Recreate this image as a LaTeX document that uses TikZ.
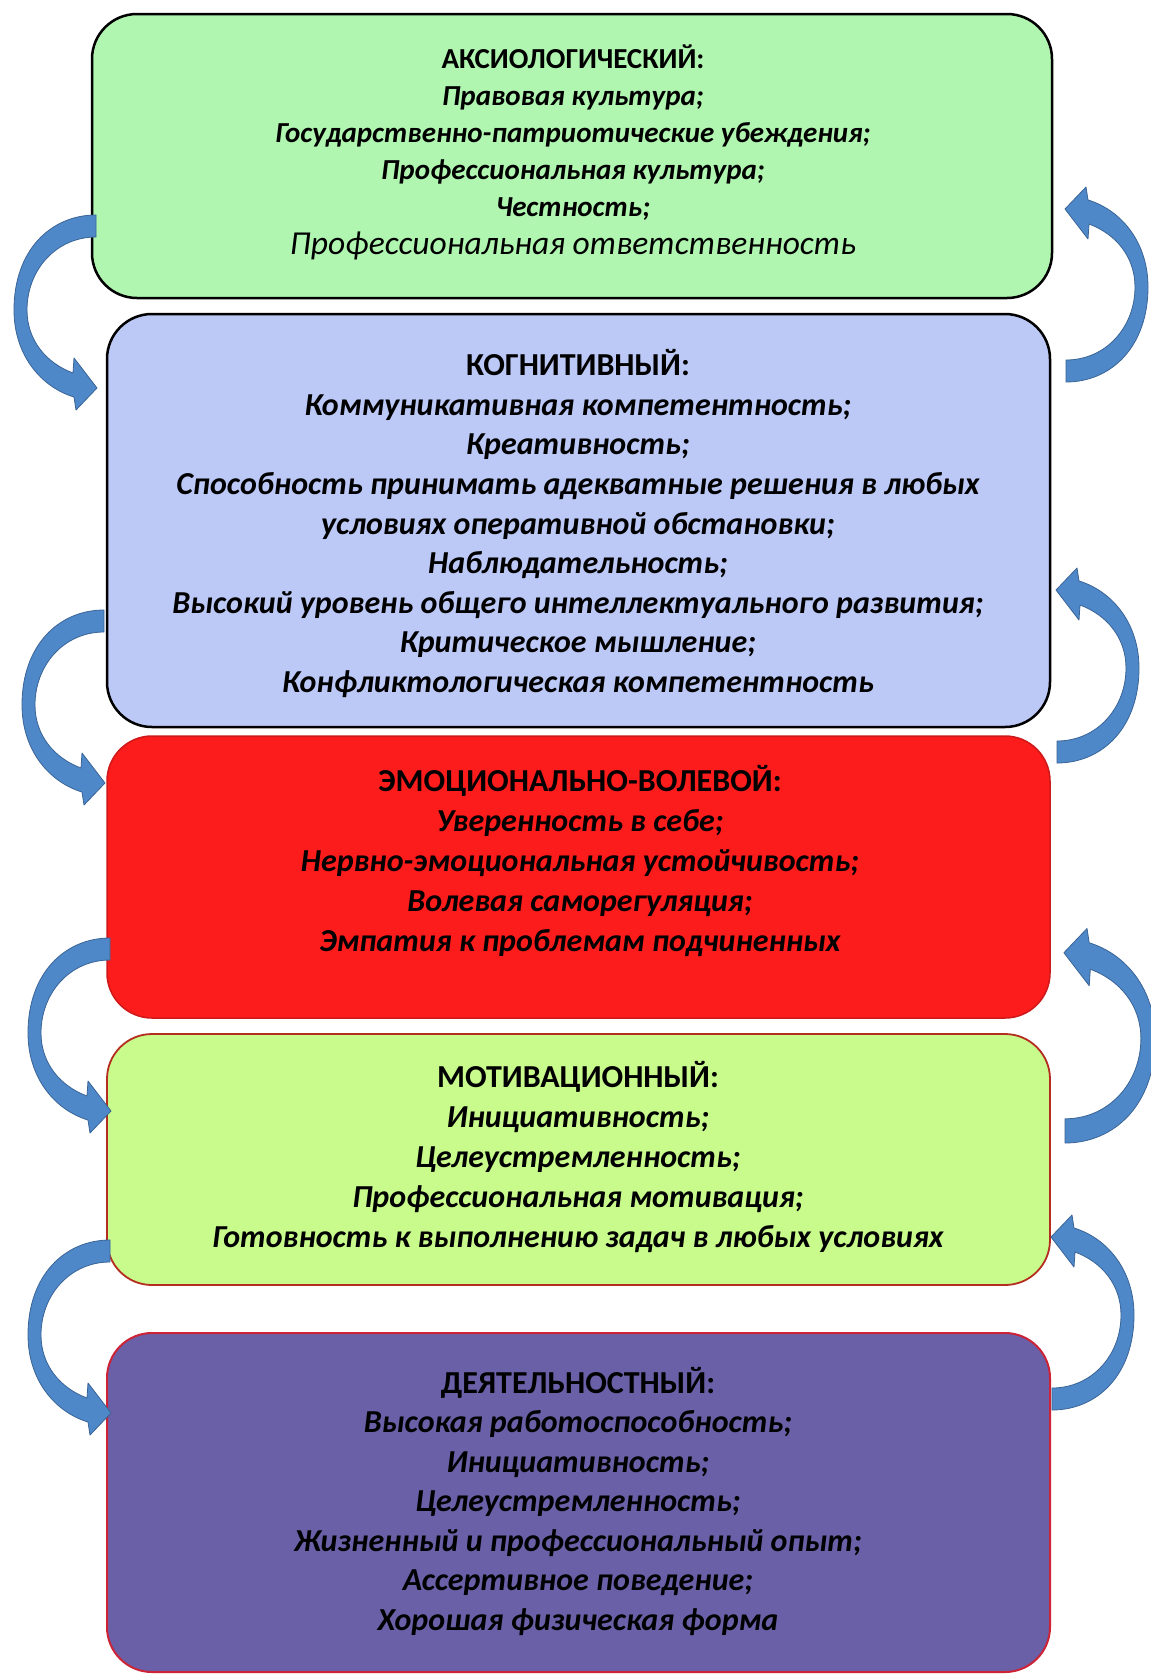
\documentclass[tikz,border=0pt]{standalone}
\usepackage{fontspec}
\setmainfont{Carlito}
\usepackage{graphicx}
\definecolor{cA}{RGB}{176,245,176}
\definecolor{cB}{RGB}{188,200,246}
\definecolor{cC}{RGB}{252,28,28}
\definecolor{cCb}{RGB}{205,25,25}
\definecolor{cD}{RGB}{200,250,140}
\definecolor{cDb}{RGB}{180,45,30}
\definecolor{cE}{RGB}{106,96,168}
\definecolor{cEb}{RGB}{205,35,55}
\definecolor{arrfill}{RGB}{78,136,200}
\definecolor{arrline}{RGB}{58,100,150}
\newcommand\hd[1]{{\bfseries #1}}
\newcommand\itm[1]{{\bfseries\itshape #1}}
\newcommand\itr[1]{{\fontsize{33.5}{37.2}\selectfont\itshape #1}}
\tikzset{
  box/.style={rectangle, rounded corners=45pt, inner sep=0pt, line width=2.5pt},
  txt/.style={align=center, inner sep=0pt, text=black},
  arrowstyle/.style={fill=arrfill, draw=arrline, line width=0.8pt, line join=round},
  curvarrow/.pic={
    \filldraw[arrowstyle] (0,0) .. controls (-45,0) and (-82,35) .. (-82,95)
      .. controls (-82,140) and (-55,172) .. (-22,182) -- (-20,195) -- (1,173)
      -- (-22,143) -- (-23,158) .. controls (-50,148) and (-69,125) .. (-69,95)
      .. controls (-69,55) and (-40,22) .. (0,22) -- cycle;
  }
}
\begin{document}
\begin{tikzpicture}[x=1pt,y=-1pt]
\useasboundingbox (0,0) rectangle (1151,1674);
\fill[white] (0,0) rectangle (1151,1674);

% boxes
\node[box, fill=cA, draw=black, minimum width=960pt, minimum height=284pt] (b1) at (572,156) {};
\node[box, fill=cB, draw=black, minimum width=943pt, minimum height=413pt] (b2) at (578.5,520.5) {};
\node[box, fill=cC, draw=cCb, line width=1.5pt, minimum width=943pt, minimum height=282pt] (b3) at (578.5,877) {};
\node[box, fill=cD, draw=cDb, line width=1.8pt, minimum width=943pt, minimum height=251pt] (b4) at (578.5,1159.5) {};
\node[box, fill=cE, draw=cEb, line width=2pt, minimum width=943pt, minimum height=339pt] (b5) at (578.5,1502.5) {};

% texts
\node[txt, font=\fontsize{29}{37.2}\selectfont] (t1) at (573,152) {%
\hd{АКСИОЛОГИЧЕСКИЙ:}\\
\itm{Правовая культура;}\\
\itm{Государственно-патриотические убеждения;}\\
\itm{Профессиональная культура;}\\
\itm{Честность;}\\
\itr{Профессиональная ответственность}};

\node[txt, font=\fontsize{32}{39.6}\selectfont] (t2) at (578,523.5) {%
\hd{КОГНИТИВНЫЙ:}\\
\itm{Коммуникативная компетентность;}\\
\itm{Креативность;}\\
\itm{Способность принимать адекватные решения в любых}\\
\itm{условиях оперативной обстановки;}\\
\itm{Наблюдательность;}\\
\itm{Высокий уровень общего интеллектуального развития;}\\
\itm{Критическое мышление;}\\
\itm{Конфликтологическая компетентность}};

\node[txt, font=\fontsize{32}{40}\selectfont] (t3) at (580,861) {%
\hd{ЭМОЦИОНАЛЬНО-ВОЛЕВОЙ:}\\
\itm{Уверенность в себе;}\\
\itm{Нервно-эмоциональная устойчивость;}\\
\itm{Волевая саморегуляция;}\\
\itm{Эмпатия к проблемам подчиненных}};

\node[txt, font=\fontsize{32}{40}\selectfont] (t4) at (578,1157) {%
\hd{МОТИВАЦИОННЫЙ:}\\
\itm{Инициативность;}\\
\itm{Целеустремленность;}\\
\itm{Профессиональная мотивация;}\\
\itm{Готовность к выполнению задач в любых условиях}};

\node[txt, font=\fontsize{32}{39.5}\selectfont] (t5) at (578,1501) {%
\hd{ДЕЯТЕЛЬНОСТНЫЙ:}\\
\itm{Высокая работоспособность;}\\
\itm{Инициативность;}\\
\itm{Целеустремленность;}\\
\itm{Жизненный и профессиональный опыт;}\\
\itm{Ассертивное поведение;}\\
\itm{Хорошая физическая форма}};

% arrow anchors
\coordinate (L1) at (96,215);
\coordinate (L2) at (104,610);
\coordinate (L3) at (110,938);
\coordinate (L4) at (110,1240);
\coordinate (R1) at (1066,382);
\coordinate (R2) at (1057,763);
\coordinate (R3) at (1065,1143);
\coordinate (R4) at (1052,1410);

\pic at (L1) {curvarrow};
\pic at (L2) {curvarrow};
\pic at (L3) {curvarrow};
\pic at (L4) {curvarrow};
\pic[rotate=180] at (R1) {curvarrow};
\pic[rotate=180] at (R2) {curvarrow};
\pic[rotate=180, scale=1.1] at (R3) {curvarrow};
\pic[rotate=180] at (R4) {curvarrow};
\end{tikzpicture}
\end{document}
